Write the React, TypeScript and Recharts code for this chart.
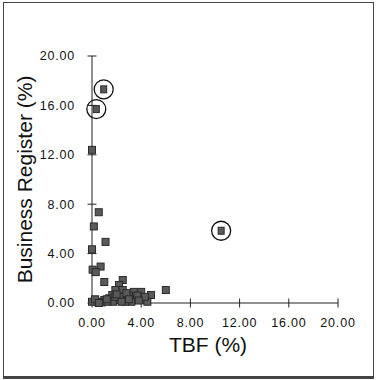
import React from 'react';
import { ScatterChart, Scatter, XAxis, YAxis, Label } from 'recharts';

// TBF (%) vs Business Register (%)
const tbf = [
    0.0, 0.55, 0.15, 1.1, 0.0, 0.05, 0.7, 0.3, 1.0, 2.5,
    2.2, 1.9, 2.5, 1.65, 2.6, 1.4, 1.0, 0.45, 0.0, 3.4,
    4.0, 3.55, 4.1, 4.8, 4.5, 6.0, 2.05, 2.9, 1.7, 2.3,
    0.8, 1.25, 3.0, 3.2, 2.7, 1.9, 0.25, 3.7, 1.2, 2.0,
    2.8, 3.0, 0.55, 4.3, 3.8, 2.4,
];
const businessRegister = [
    12.4, 7.35, 6.2, 4.95, 4.35, 2.7, 2.95, 2.5, 1.7, 1.86,
    1.46, 1.05, 1.05, 0.65, 0.5, 0.38, 0.24, 0.1, 0.1, 0.9,
    0.9, 0.24, 0.24, 0.65, 0.1, 1.05, 0.24, 0.24, 0.1, 0.5,
    0.05, 0.1, 0.6, 0.1, 0.1, 0.5, 0.3, 0.6, 0.3, 0.7,
    0.8, 0.3, 0.0, 0.5, 0.2, 0.1,
];

// the three outliers that are circled in the figure
const circledTbf = [0.95, 0.35, 10.5];
const circledBr = [17.3, 15.7, 5.85];

const ticks = [0, 4, 8, 12, 16, 20];

const points = tbf.map((x, i) => ({ x, y: businessRegister[i] }));
const circled = circledTbf.map((x, i) => ({ x, y: circledBr[i] }));

const FONT = '"Liberation Sans", Arial, Helvetica, sans-serif';

// eslint-disable-next-line @typescript-eslint/no-explicit-any
function SquareDot(props: any) {
    const { cx, cy } = props;
    if (cx == null || cy == null) return null;
    return <rect x={cx - 3.5} y={cy - 3.5} width={7} height={7} fill="#5a5a5a" stroke="#2a2a2a" strokeWidth={1} />;
}

// eslint-disable-next-line @typescript-eslint/no-explicit-any
function CircledDot(props: any) {
    const { cx, cy } = props;
    if (cx == null || cy == null) return null;
    return (
        <g>
            <circle cx={cx} cy={cy} r={9.5} fill="none" stroke="#111" strokeWidth={1.3} />
            <rect x={cx - 3} y={cy - 3.5} width={6} height={7} fill="#5a5a5a" stroke="#2a2a2a" strokeWidth={1} />
        </g>
    );
}

const fmt = (v: number) => v.toFixed(2);

export default function App() {
    return (
        <div style={{ position: 'absolute', left: 0, top: 0, width: 377, height: 380, background: '#fff' }}>
            <div
                style={{
                    position: 'absolute',
                    left: 3,
                    top: 2,
                    width: 369,
                    height: 373,
                    borderStyle: 'solid',
                    borderColor: '#444',
                    borderWidth: '1.5px 1.5px 3px 1.5px',
                }}
            />
            <div style={{ position: 'absolute', left: 0, top: 0 }}>
                <ScatterChart width={377} height={380} margin={{ top: 56, right: 39, bottom: 0, left: 0 }}>
                    <XAxis
                        type="number"
                        dataKey="x"
                        domain={[0, 20]}
                        ticks={ticks}
                        tickFormatter={fmt}
                        height={77}
                        stroke="#222"
                        tickSize={9}
                        tickMargin={6}
                        tickLine={{ transform: 'translate(0,-4.5)', stroke: '#222' }}
                        tick={{ fill: '#111', fontSize: 12.5, fontFamily: FONT, letterSpacing: 0.8 }}
                    >
                        <Label
                            content={({ viewBox }: any) => (
                                <text
                                    x={viewBox.x + viewBox.width / 2 - 7}
                                    y={viewBox.y + 49}
                                    textAnchor="middle"
                                    fontSize={21}
                                    fontFamily={FONT}
                                    fill="#111"
                                >
                                    TBF (%)
                                </text>
                            )}
                        />
                    </XAxis>
                    <YAxis
                        type="number"
                        dataKey="y"
                        domain={[0, 20]}
                        ticks={ticks}
                        tickFormatter={fmt}
                        width={92}
                        stroke="#222"
                        tickSize={9}
                        tickMargin={8}
                        tickLine={{ transform: 'translate(4.5,0)', stroke: '#222' }}
                        tick={{ fill: '#111', fontSize: 12.5, fontFamily: FONT, letterSpacing: 0.8 }}
                    >
                        <Label
                            content={({ viewBox }: any) => {
                                const x = viewBox.x + 32;
                                const y = viewBox.y + viewBox.height / 2;
                                return (
                                    <text
                                        x={x}
                                        y={y}
                                        transform={`rotate(-90 ${x} ${y})`}
                                        textAnchor="middle"
                                        fontSize={21}
                                        fontFamily={FONT}
                                        fill="#111"
                                    >
                                        Business Register (%)
                                    </text>
                                );
                            }}
                        />
                    </YAxis>
                    <Scatter data={points} shape={<SquareDot />} isAnimationActive={false} />
                    <Scatter data={circled} shape={<CircledDot />} isAnimationActive={false} />
                </ScatterChart>
            </div>
        </div>
    );
}
